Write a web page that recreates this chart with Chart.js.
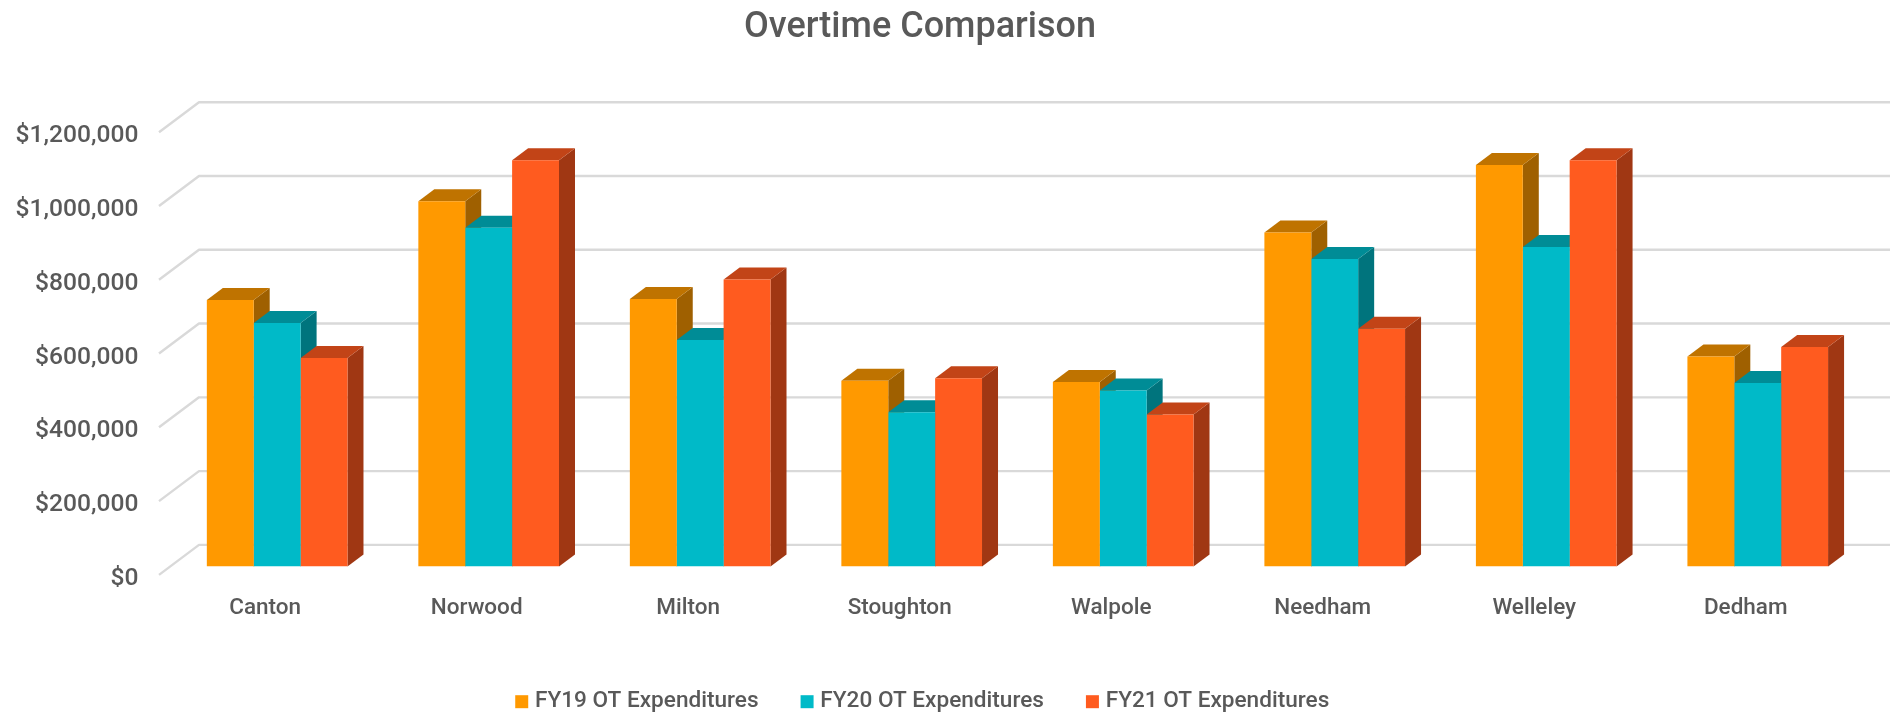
<!DOCTYPE html>
<html>
<head>
<meta charset="utf-8">
<title>Overtime Comparison</title>
<script src="https://cdn.jsdelivr.net/npm/chart.js@4/dist/chart.umd.min.js"></script>
<style>
    html, body { margin: 0; padding: 0; background: #fff; }
    #wrap { width: 1890px; height: 712px; }
</style>
</head>
<body>
<div id="wrap"><canvas id="chart"></canvas></div>
<script>
// Chart data
const categories = ['Canton', 'Norwood', 'Milton', 'Stoughton', 'Walpole', 'Needham', 'Welleley', 'Dedham'];
const fy19 = [722000, 990000, 725000, 503000, 500000, 905000, 1088000, 569000];
const fy20 = [660000, 918000, 614000, 418000, 477000, 833000, 866000, 497000];
const fy21 = [565000, 1101000, 778000, 510000, 412000, 644000, 1101000, 595000];
const yTicks = [0, 200000, 400000, 600000, 800000, 1000000, 1200000];

const FONT = 'Roboto, "Liberation Sans", Arial, sans-serif';
const TEXT_COLOR = '#595959';
const GRID_COLOR = '#d9d9d9';

// front, top and side colours per series
const seriesColors = [
    { front: '#ff9900', top: '#bf7300', side: '#9f6000' },
    { front: '#00bac8', top: '#008c96', side: '#00747d' },
    { front: '#ff5b1f', top: '#c24417', side: '#a03713' }
];

const BAR_DEPTH_X = 16;
const BAR_DEPTH_Y = 12;
const WALL_DEPTH_X = 40;
const WALL_DEPTH_Y = 30;
const WALL_FRONT_X = 159;
const GRID_DROP = 8.5;
const LABEL_DROP = 12.5;

function fillPoly(ctx, color, pts) {
    ctx.fillStyle = color;
    ctx.beginPath();
    pts.forEach((p, i) => (i ? ctx.lineTo(p[0], p[1]) : ctx.moveTo(p[0], p[1])));
    ctx.closePath();
    ctx.fill();
}

// Fake 3D: back wall lines and the side and top faces of the bars
const depthPlugin = {
    id: 'depth',
    afterLayout(chart) {
        // title and legend sit left of the canvas centre
        chart.titleBlock.right = 1840;
        chart.legend.right = 1849;
        chart.legend.top += 11;
    },
    beforeDatasetsDraw(chart) {
        const ctx = chart.ctx;
        const y = chart.scales.y;
        ctx.save();
        ctx.strokeStyle = GRID_COLOR;
        ctx.lineWidth = 2.4;
        ctx.lineJoin = 'round';
        y.ticks.forEach(t => {
            const py = y.getPixelForValue(t.value) + GRID_DROP;
            ctx.beginPath();
            ctx.moveTo(WALL_FRONT_X, py);
            ctx.lineTo(WALL_FRONT_X + WALL_DEPTH_X, py - WALL_DEPTH_Y);
            ctx.lineTo(chart.width, py - WALL_DEPTH_Y);
            ctx.stroke();
        });
        categories.forEach((c, i) => {
            seriesColors.forEach((col, d) => {
                const bar = chart.getDatasetMeta(d).data[i];
                const left = bar.x - bar.width / 2;
                const right = bar.x + bar.width / 2;
                const dx = BAR_DEPTH_X;
                const dy = BAR_DEPTH_Y;
                fillPoly(ctx, col.side, [[right, bar.y], [right + dx, bar.y - dy], [right + dx, bar.base - dy], [right, bar.base]]);
                fillPoly(ctx, col.top, [[left, bar.y], [left + dx, bar.y - dy], [right + dx, bar.y - dy], [right, bar.y]]);
            });
        });
        ctx.restore();
    }
};

new Chart(document.getElementById('chart'), {
    type: 'bar',
    data: {
        labels: categories,
        datasets: [
            { label: 'FY19 OT Expenditures', data: fy19, backgroundColor: seriesColors[0].front },
            { label: 'FY20 OT Expenditures', data: fy20, backgroundColor: seriesColors[1].front },
            { label: 'FY21 OT Expenditures', data: fy21, backgroundColor: seriesColors[2].front }
        ]
    },
    options: {
        responsive: true,
        maintainAspectRatio: false,
        animation: false,
        layout: { padding: { right: 26.5 } },
        datasets: { bar: { categoryPercentage: 0.665, barPercentage: 1, borderWidth: 0 } },
        scales: {
            x: {
                afterFit: s => { s.height = 66.5; },
                grid: { display: false, drawTicks: false },
                border: { display: false },
                ticks: {
                    color: TEXT_COLOR,
                    font: { family: FONT, size: 22.5, weight: '500' },
                    padding: 28,
                    labelOffset: -12,
                    maxRotation: 0
                }
            },
            y: {
                min: 0,
                max: 1200000,
                afterFit: s => { s.width = 171.4; },
                afterBuildTicks: s => { s.ticks = yTicks.map(v => ({ value: v })); },
                grid: { display: false, drawTicks: false },
                border: { display: false },
                ticks: {
                    color: TEXT_COLOR,
                    font: { family: FONT, size: 24.6, weight: '500' },
                    padding: 33,
                    labelOffset: LABEL_DROP,
                    callback: v => '$' + Number(v).toLocaleString('en-US')
                }
            }
        },
        plugins: {
            title: {
                display: true,
                text: 'Overtime Comparison',
                color: TEXT_COLOR,
                font: { family: FONT, size: 36, weight: '500' },
                padding: { top: 6, bottom: 74.5 }
            },
            legend: {
                position: 'bottom',
                labels: {
                    color: TEXT_COLOR,
                    font: { family: FONT, size: 22.6, weight: '500' },
                    boxWidth: 4,
                    boxHeight: 4,
                    padding: 46.5,
                    generateLabels: chart => Chart.defaults.plugins.legend.labels.generateLabels(chart)
                        .map(item => ({ ...item, lineWidth: 9, strokeStyle: item.fillStyle }))
                }
            },
            tooltip: { enabled: false }
        }
    },
    plugins: [depthPlugin]
});
</script>
</body>
</html>
